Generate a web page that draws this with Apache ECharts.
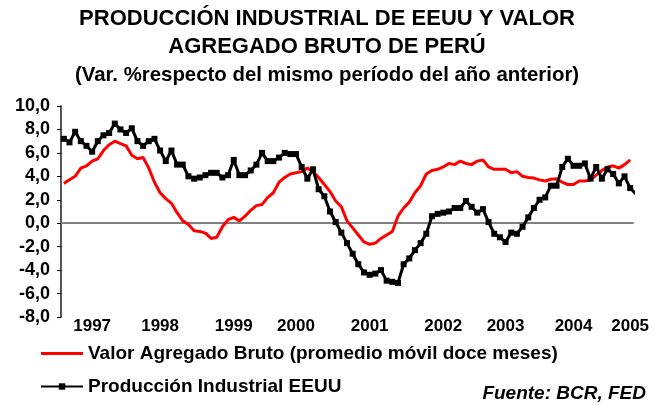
<!DOCTYPE html>
<html>
<head>
<meta charset="utf-8">
<script src="https://cdn.jsdelivr.net/npm/echarts@6/dist/echarts.min.js"></script>
<style>
  html, body { margin: 0; padding: 0; background: #fff; }
  #chart { width: 654px; height: 405px; }
</style>
</head>
<body>
<div id="chart"></div>
<script>
// meses: enero 1997 - mayo 2005
var months = [];
for (var y = 1997; y <= 2005; y++) {
  for (var m = 1; m <= 12; m++) {
    if (y === 2005 && m > 5) break;
    months.push(y + "-" + (m < 10 ? "0" + m : m));
  }
}

// Valor Agregado Bruto (promedio movil doce meses)
var vabPeru = [
  3.4, 3.7, 4.0, 4.7, 4.9, 5.3, 5.5, 6.2, 6.7, 7.0, 6.8, 6.6,
  5.8, 5.5, 5.6, 4.7, 3.5, 2.6, 2.1, 1.7, 0.9, 0.2, -0.1, -0.65,
  -0.7, -0.85, -1.3, -1.2, -0.3, 0.3, 0.5, 0.2, 0.6, 1.1, 1.5, 1.6,
  2.2, 2.6, 3.5, 3.9, 4.2, 4.3, 4.4, 4.7, 4.4, 3.9, 3.3, 2.7,
  1.9, 1.4, 0.2, -0.4, -1.0, -1.6, -1.8, -1.7, -1.3, -1.0, -0.7, 0.6,
  1.3, 1.8, 2.6, 3.2, 4.2, 4.5, 4.6, 4.8, 5.1, 5.0, 5.3, 5.1,
  5.0, 5.3, 5.4, 4.8, 4.6, 4.6, 4.6, 4.3, 4.4, 4.0, 3.9, 3.85,
  3.7, 3.6, 3.75, 3.8, 3.5, 3.3, 3.3, 3.6, 3.6, 3.7, 4.1, 4.5,
  4.8, 4.9, 4.7, 5.0, 5.4
];

// Produccion Industrial EEUU
var prodEEUU = [
  7.2, 6.9, 7.8, 7.0, 6.6, 6.1, 7.0, 7.5, 7.7, 8.5, 8.0, 7.7,
  8.1, 7.0, 6.6, 7.0, 7.2, 6.2, 5.3, 6.2, 5.0, 5.0, 4.0, 3.8,
  3.9, 4.1, 4.3, 4.3, 3.9, 4.1, 5.4, 4.1, 4.1, 4.5, 5.0, 6.0,
  5.3, 5.3, 5.6, 6.0, 5.9, 5.9, 4.8, 3.8, 4.6, 2.9, 2.3, 1.0,
  0.1, -0.8, -1.7, -2.6, -3.5, -4.2, -4.4, -4.3, -4.0, -4.9, -5.0, -5.1,
  -3.5, -3.0, -2.3, -1.7, -0.9, 0.6, 0.8, 0.9, 1.0, 1.3, 1.3, 1.9,
  1.4, 0.9, 1.2, 0.1, -0.9, -1.2, -1.6, -0.8, -0.9, -0.3, 0.5, 1.3,
  2.0, 2.2, 3.2, 3.2, 4.8, 5.5, 4.9, 4.9, 5.1, 3.8, 4.8, 3.8,
  4.6, 4.2, 3.4, 4.0, 3.0, 2.5
];

var titleLines = ["PRODUCCIÓN INDUSTRIAL DE EEUU Y VALOR", "AGREGADO BRUTO DE PERÚ"];
var subTitle = "(Var. %respecto del mismo período del año anterior)";
var seriesNames = ["Valor Agregado Bruto (promedio móvil doce meses)", "Producción Industrial EEUU"];
var sourceNote = "Fuente: BCR, FED";

var chart = echarts.init(document.getElementById("chart"));
var font = "'Liberation Sans', Arial, sans-serif";
var yearLabelAt = [5, 17, 30, 41, 54, 67, 78, 90, 100];

chart.setOption({
  animation: false,
  title: [
    {
      text: titleLines.join("\n"),
      subtext: subTitle,
      left: "center",
      top: 0,
      itemGap: 4,
      textStyle: { fontFamily: font, fontSize: 22, fontWeight: "bold", color: "#000", lineHeight: 28 },
      subtextStyle: { fontFamily: font, fontSize: 20.4, fontWeight: "bold", color: "#000" }
    },
    {
      text: sourceNote,
      right: 3,
      top: 379,
      textStyle: { fontFamily: font, fontSize: 19, fontWeight: "bold", fontStyle: "italic", color: "#000" }
    }
  ],
  legend: {
    orient: "vertical",
    left: 40,
    top: 344,
    padding: 0,
    itemGap: 14,
    itemWidth: 42,
    itemHeight: 8,
    textStyle: { fontFamily: font, fontSize: 19, fontWeight: "bold", color: "#000" },
    data: [
      { name: seriesNames[0], icon: "path://M0,0H42V3H0Z" },
      { name: seriesNames[1] }
    ]
  },
  grid: { left: 61, right: 21, top: 106, bottom: 88 },
  xAxis: [
    {
      type: "category",
      data: months,
      boundaryGap: true,
      axisLine: { onZero: true, lineStyle: { color: "#808080", width: 2 } },
      axisTick: { interval: 5, length: 5, lineStyle: { color: "#000", width: 1 } },
      axisLabel: { show: false },
      splitLine: { show: false }
    },
    {
      type: "category",
      data: months,
      position: "bottom",
      boundaryGap: true,
      axisLine: { show: false, onZero: false },
      axisTick: { show: false },
      axisLabel: {
        margin: 1,
        interval: function (idx) { return yearLabelAt.indexOf(idx) >= 0; },
        formatter: function (v) { return v.slice(0, 4); },
        fontFamily: font, fontSize: 17, fontWeight: "bold", color: "#000"
      },
      splitLine: { show: false }
    }
  ],
  yAxis: {
    type: "value",
    min: -8,
    max: 10,
    interval: 2,
    axisLine: { show: true, lineStyle: { color: "#555", width: 2 } },
    axisTick: { show: true, length: 4, lineStyle: { color: "#000" } },
    axisLabel: {
      margin: 11,
      formatter: function (v) { return v.toFixed(1).replace(".", ","); },
      fontFamily: font, fontSize: 18, fontWeight: "bold", color: "#000"
    },
    splitLine: { show: false }
  },
  series: [
    {
      name: seriesNames[0],
      type: "line",
      data: vabPeru,
      symbol: "none",
      lineStyle: { color: "#ff0000", width: 3 },
      itemStyle: { color: "#ff0000" },
      z: 2
    },
    {
      name: seriesNames[1],
      type: "line",
      data: prodEEUU,
      symbol: "rect",
      symbolSize: 6,
      showAllSymbol: true,
      lineStyle: { color: "#000", width: 3 },
      itemStyle: { color: "#000" },
      z: 3
    }
  ]
});
</script>
</body>
</html>
